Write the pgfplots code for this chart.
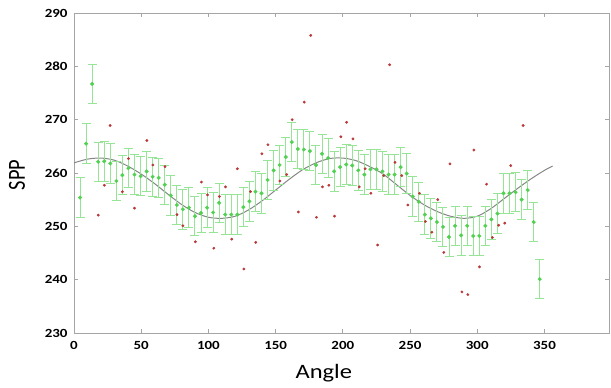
\documentclass[border=0pt]{standalone}
\usepackage{fontspec}
\setmainfont{Carlito}
\usepackage{pgfplots}
\pgfplotsset{compat=1.18}
\definecolor{eg}{RGB}{150,228,150}
\definecolor{mg}{RGB}{80,210,80}
\definecolor{rd}{RGB}{185,55,55}
\definecolor{ax}{RGB}{165,165,165}
\definecolor{cv}{RGB}{135,135,135}
\newcommand\sx[1]{\scalebox{1.2}[1]{#1}}
\begin{document}
\begin{tikzpicture}
\begin{axis}[
  scale only axis, width=535bp, height=320bp,
  xmin=0, xmax=398, ymin=230, ymax=290,
  xtick={0,50,...,350}, ytick={230,240,...,290},
  xticklabels={\sx{0},\sx{50},\sx{100},\sx{150},\sx{200},\sx{250},\sx{300},\sx{350}},
  yticklabels={\sx{230},\sx{240},\sx{250},\sx{260},\sx{270},\sx{280},\sx{290}},
  tick label style={font=\bfseries\fontsize{12.5}{14}\selectfont, text=black},
  xticklabel style={yshift=-5bp},
  yticklabel style={xshift=-3bp},
  axis line style={ax, line width=1pt},
  tick style={ax, line width=0.8pt}, tick align=inside, major tick length=4bp,
  xlabel={\sx{Angle}}, ylabel={\scalebox{1}[1.2]{SPP}},
  label style={font=\fontsize{20.5}{24}\selectfont},
  xlabel style={at={(axis description cs:0.467,0)}, anchor=base, yshift=-45bp},
  ylabel style={at={(axis description cs:-0.0916,0.494)}, anchor=base},
  clip=false,
]
\coordinate (ll) at (rel axis cs:0,0);
% fitted curve (sampled)
\addplot[cv, line width=1pt, smooth] coordinates {
(0,261.9) (10,262.6) (20,262.8) (30,262.4) (40,261.3) (50,259.8) (60,258.0)
(70,256.0) (80,254.1) (90,252.6) (100,251.7) (110,251.5) (120,251.9) (130,253.1)
(140,254.8) (150,256.8) (160,258.8) (170,260.6) (180,261.9) (190,262.7) (200,262.8)
(210,262.3) (220,261.2) (230,259.8) (240,257.8) (250,255.8) (260,254.1) (270,252.8)
(280,251.9) (290,251.5) (300,251.9) (310,253.3) (320,255.2) (330,257.1) (340,258.9)
(350,260.5) (356,261.3)};
% mean values with error bars
\addplot[only marks, mark=*, mark size=1.8bp, mark options={draw=mg, fill=mg},
  error bars/.cd, y dir=both, y explicit,
  error bar style={eg, line width=1pt},
  error mark options={eg, rotate=90, mark size=4.5bp, line width=1pt}]
  table[x=x, y=y, y error=e] {
x y e
4.5 255.4 3.7
9 265.5 3.7
13.5 276.7 3.7
18 262.1 3.7
22.5 262.2 3.7
27 261.8 3.7
31.5 258.5 3.7
36 259.6 3.7
40.5 260.9 3.7
45 259.7 3.7
49.5 259.4 3.7
54 260.3 3.7
58.5 259.3 3.7
63 259.1 3.7
67.5 257.8 3.7
72 255.8 3.7
76.5 254.0 3.7
81 253.2 3.7
85.5 253.5 3.7
90 251.9 3.7
94.5 252.5 3.7
99 253.5 3.7
103.5 252.6 3.7
108 254.4 3.7
112.5 252.2 3.7
117 252.2 3.7
121.5 252.2 3.7
126 253.6 3.7
130.5 254.7 3.7
135 256.5 3.7
139.5 256.2 3.7
144 258.7 3.7
148.5 260.5 3.7
153 261.5 3.7
157.5 263.0 3.7
162 265.8 3.7
166.5 264.5 3.7
171 264.4 3.7
175.5 264.1 3.7
180 261.5 3.7
184.5 263.6 3.7
189 262.8 3.7
193.5 260.3 3.7
198 261.1 3.7
202.5 261.6 3.7
207 261.4 3.7
211.5 260.5 3.7
216 259.7 3.7
220.5 260.7 3.7
225 260.7 3.7
229.5 260.3 3.7
234 259.7 3.7
238.5 259.7 3.7
243 261.1 3.7
247.5 259.9 3.7
252 255.6 3.7
256.5 254.6 3.7
261 252.2 3.7
265.5 251.5 3.7
270 250.8 3.7
274.5 249.9 3.7
279 248.0 3.7
283.5 250.1 3.7
288 248.3 3.7
292.5 250.1 3.7
297 248.2 3.7
301.5 248.2 3.7
306 250.1 3.7
310.5 251.3 3.7
315 252.4 3.7
319.5 256.2 3.7
324 256.2 3.7
328.5 256.4 3.7
333 255.0 3.7
337.5 256.8 3.7
342 250.8 3.7
346.5 240.1 3.7
};
% individual measurements
\addplot[only marks, mark=*, mark size=1.2bp, mark options={draw=rd, fill=rd}] coordinates {
(18.1,252.1) (22.6,257.7) (26.9,268.9) (36,256.5) (40.5,262.7) (45,253.4)
(54.2,266.1) (58.7,261.5) (67.7,261.2) (76.6,252.2) (81,250.1) (90.3,247.1)
(94.8,258.3) (99.3,255.9) (104,245.9) (108.2,255.6) (112.7,257.4) (117.3,247.6)
(121.5,260.8) (126.4,242.0) (131.3,256.5) (135.2,247.0) (139.8,263.6) (144.3,265.3)
(153.2,258.5) (158.2,259.7) (162.3,270.0) (166.9,252.7) (171.3,273.3) (176.1,285.8)
(180.4,251.7) (184.8,257.4) (189.6,257.7) (193.8,251.9) (198.5,266.8) (202.8,269.5)
(207.5,266.4) (212.2,257.4) (216.6,260.8) (220.9,256.2) (225.9,246.5) (230.4,259.5)
(234.8,280.3) (238.8,262.0) (243.8,259.5) (248.3,254.0) (257,256.2) (261.4,250.9)
(266.2,248.9) (270.6,255.0) (275.1,245.1) (279.7,261.7) (288.6,237.7) (293,237.2)
(297.5,264.3) (301.7,242.4) (306.9,257.9) (311.2,247.9) (315.9,250.2) (320.4,250.6)
(324.9,261.4) (334.1,268.9)};
\end{axis}
\pgfresetboundingbox
\path (ll) ++(-74bp,-55bp) rectangle ++(611bp,388bp);
\end{tikzpicture}
\end{document}
